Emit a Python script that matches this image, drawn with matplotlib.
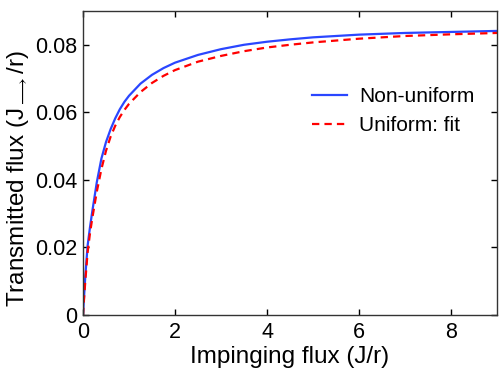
import matplotlib
matplotlib.use("Agg")
import matplotlib.pyplot as plt

plt.rcParams['font.family'] = ['Liberation Sans', 'DejaVu Sans']
plt.rcParams['mathtext.fontset'] = 'custom'
plt.rcParams['mathtext.rm'] = 'Liberation Sans'

x_vals = [0, 0.02, 0.05, 0.1, 0.15, 0.2, 0.3, 0.4, 0.5, 0.6, 0.7, 0.8, 0.9, 1.0, 1.25, 1.5,
          1.75, 2.0, 2.5, 3.0, 3.5, 4.0, 4.5, 5.0, 6.0, 7.0, 8.0, 9.0]
nonuniform = [0, 0.0048, 0.0115, 0.0205, 0.0258, 0.0305, 0.0393, 0.0463, 0.0512, 0.0550,
              0.0582, 0.0609, 0.0631, 0.0649, 0.0685, 0.0711, 0.0731, 0.0747, 0.0770,
              0.0787, 0.0800, 0.0809, 0.0816, 0.0822, 0.0830, 0.0835, 0.0838, 0.0841]
uniform_fit = [0, 0.0042, 0.0100, 0.0185, 0.0240, 0.0285, 0.0365, 0.0432, 0.0486, 0.0528,
               0.0560, 0.0586, 0.0607, 0.0625, 0.0660, 0.0687, 0.0708, 0.0725, 0.0750,
               0.0767, 0.0781, 0.0792, 0.0800, 0.0807, 0.0818, 0.0826, 0.0831, 0.0835]

fig = plt.figure(figsize=(4.99, 3.73), dpi=100)
ax = fig.add_axes([83/499, 58/373, 414/499, 304/373])
ax.plot(x_vals, nonuniform, color='#2a46ff', lw=1.6, label='Non-uniform')
ax.plot(x_vals, uniform_fit, color='#ff0000', lw=1.6, ls=(0, (3.3, 2.3)), label='Uniform: fit')

ax.set_xlim(0, 9)
ax.set_ylim(0, 0.09)
ax.set_xticks([0, 2, 4, 6, 8])
ax.set_xticklabels(['0', '2', '4', '6', '8'])
ax.set_yticks([0, 0.02, 0.04, 0.06, 0.08])
ax.set_yticklabels(['0', '0.02', '0.04', '0.06', '0.08'])
ax.tick_params(direction='in', top=True, right=True, length=4, width=1, labelsize=15.5)
ax.tick_params(axis='x', pad=5)
ax.tick_params(axis='y', pad=4)
for s in ax.spines.values():
    s.set_color('#333333')
    s.set_linewidth(1)
ax.set_xlabel('Impinging flux (J/r)', fontsize=17.5, labelpad=2)
ax.set_ylabel(r'Transmitted flux (J$_{\longrightarrow}$/r)', fontsize=17.5)
ax.yaxis.set_label_coords(-0.125, 0.45)
ax.legend(loc='upper left', bbox_to_anchor=(312/499, 1 - 87/373), bbox_transform=fig.transFigure,
          frameon=False, fontsize=15, borderpad=0, borderaxespad=0,
          handlelength=1.7, handletextpad=0.55, labelspacing=0.5)
fig.savefig('out.png', dpi=100)
